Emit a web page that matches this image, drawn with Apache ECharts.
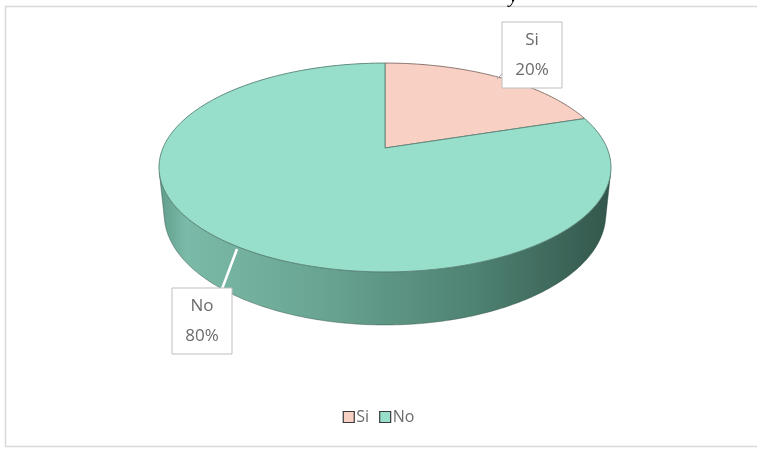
<!DOCTYPE html>
<html><head><meta charset="utf-8">
<script src="https://cdn.jsdelivr.net/npm/echarts@6/dist/echarts.min.js"></script>
<style>html,body{margin:0;padding:0;background:#fff}#c{width:757px;height:451px}</style>
</head><body><div id="c"></div>
<script>
// ---- data ----
const categories = ['Si', 'No'];
const values = [20, 80];

// ---- style / layout ----
const topColors = ['#F9D0C4', '#98DFCB'];
const edgeColors = ['#8C7670', '#5E8A7D'];
const labelBoxes = [[532, 55], [202, 321]];   // label box centres
const leaders = [[[504, 72], [497, 79]], [[222, 289], [237, 249]]];

// perspective projection of a flat cylinder (Excel-like 3D pie)
const CX = 385, CY = 148, F = 1059.6, D = 4.773, S = 0.454, C = 0.891, H = 0.2385;
function proj(theta, r, h) {
  const u = r * Math.sin(theta), v = r * Math.cos(theta);
  const yc = v * S + h * C, zc = D + v * C - h * S;
  return [CX + F * u / zc, CY - F * yc / zc];
}
const silA = Math.acos(-1 / (D * C));          // visible side range
const silB = 2 * Math.PI - silA;

const total = values.reduce((a, b) => a + b, 0);
const starts = [];
let acc = 0;
values.forEach(v => { starts.push(acc / total * 2 * Math.PI); acc += v; });

function arc(a0, a1, h) {
  const pts = [];
  const n = Math.max(2, Math.ceil((a1 - a0) / (Math.PI / 180)));
  for (let k = 0; k <= n; k++) pts.push(proj(a0 + (a1 - a0) * k / n, 1, h));
  return pts;
}

function makeRender(i) {
  return function (params, api) {
    const val = api.value(0);
    const a0 = starts[i], a1 = a0 + val / total * 2 * Math.PI;
    const children = [];
    const s0 = Math.max(a0, silA), s1 = Math.min(a1, silB);
    if (s1 > s0) {
      const topRim = arc(s0, s1, 0);
      const botRim = arc(s0, s1, -H).reverse();
      children.push({
        type: 'polygon',
        shape: { points: topRim.concat(botRim) },
        style: {
          fill: new echarts.graphic.LinearGradient(0, 0, 1, 0, [
            { offset: 0, color: '#5F9C8B' },
            { offset: 0.06, color: '#7BBAA8' },
            { offset: 0.35, color: '#6AA593' },
            { offset: 0.7, color: '#4E8272' },
            { offset: 1, color: '#33564B' }
          ]),
          stroke: 'rgba(40,70,60,0.5)', lineWidth: 0.8
        }
      });
    }
    const top = [proj(0, 0, 0)].concat(arc(a0, a1, 0));
    children.push({
      type: 'polygon',
      shape: { points: top },
      style: { fill: topColors[i], stroke: edgeColors[i], lineWidth: 1 }
    });
    return { type: 'group', children };
  };
}

const series = categories.map((name, i) => ({
  type: 'custom',
  name,
  coordinateSystem: 'none',
  itemStyle: { color: topColors[i] },
  data: [[values[i]]],
  renderItem: makeRender(i),
  silent: true,
  z: 2
}));

const graphic = [
  { type: 'rect', shape: { x: 5.5, y: 6.5, width: 800, height: 440 },
    style: { fill: 'none', stroke: '#D9D9D9', lineWidth: 1.5 }, z: 0 },
  { type: 'text', x: 509, y: -13, style: { text: 'y', font: 'italic 20px "Liberation Serif"', fill: '#000' }, z: 0 }
];
categories.forEach((name, i) => {
  const [bx, by] = labelBoxes[i];
  const pct = Math.round(values[i] / total * 100) + '%';
  graphic.push({ type: 'line', shape: { x1: leaders[i][0][0], y1: leaders[i][0][1], x2: leaders[i][1][0], y2: leaders[i][1][1] },
    style: { stroke: i === 1 ? '#FFFFFF' : '#A6A6A6', lineWidth: i === 1 ? 2.5 : 1 }, z: 10 });
  graphic.push({ type: 'rect', shape: { x: bx - 30, y: by - 33, width: 60, height: 66 },
    style: { fill: '#FFFFFF', stroke: '#BFBFBF', lineWidth: 1 }, z: 11 });
  graphic.push({ type: 'text', x: bx, y: by, z: 12,
    style: { text: name + '\n' + pct, fill: '#6B6B6B', font: '17px "Open Sans"', lineHeight: 30,
      align: 'center', verticalAlign: 'middle' } });
});

const chart = echarts.init(document.getElementById('c'), null, { renderer: 'canvas' });
chart.setOption({
  animation: false,
  backgroundColor: '#FFFFFF',
  legend: {
    data: categories,
    top: 404, left: 'center',
    icon: 'rect', itemWidth: 11, itemHeight: 11, itemGap: 10,
    textStyle: { color: '#6B6B6B', fontSize: 16, fontFamily: 'Open Sans', padding: [0, 0, 0, -3] },
    itemStyle: { borderColor: '#3A3A3A', borderWidth: 1.2 }
  },
  graphic,
  series
});
</script></body></html>
